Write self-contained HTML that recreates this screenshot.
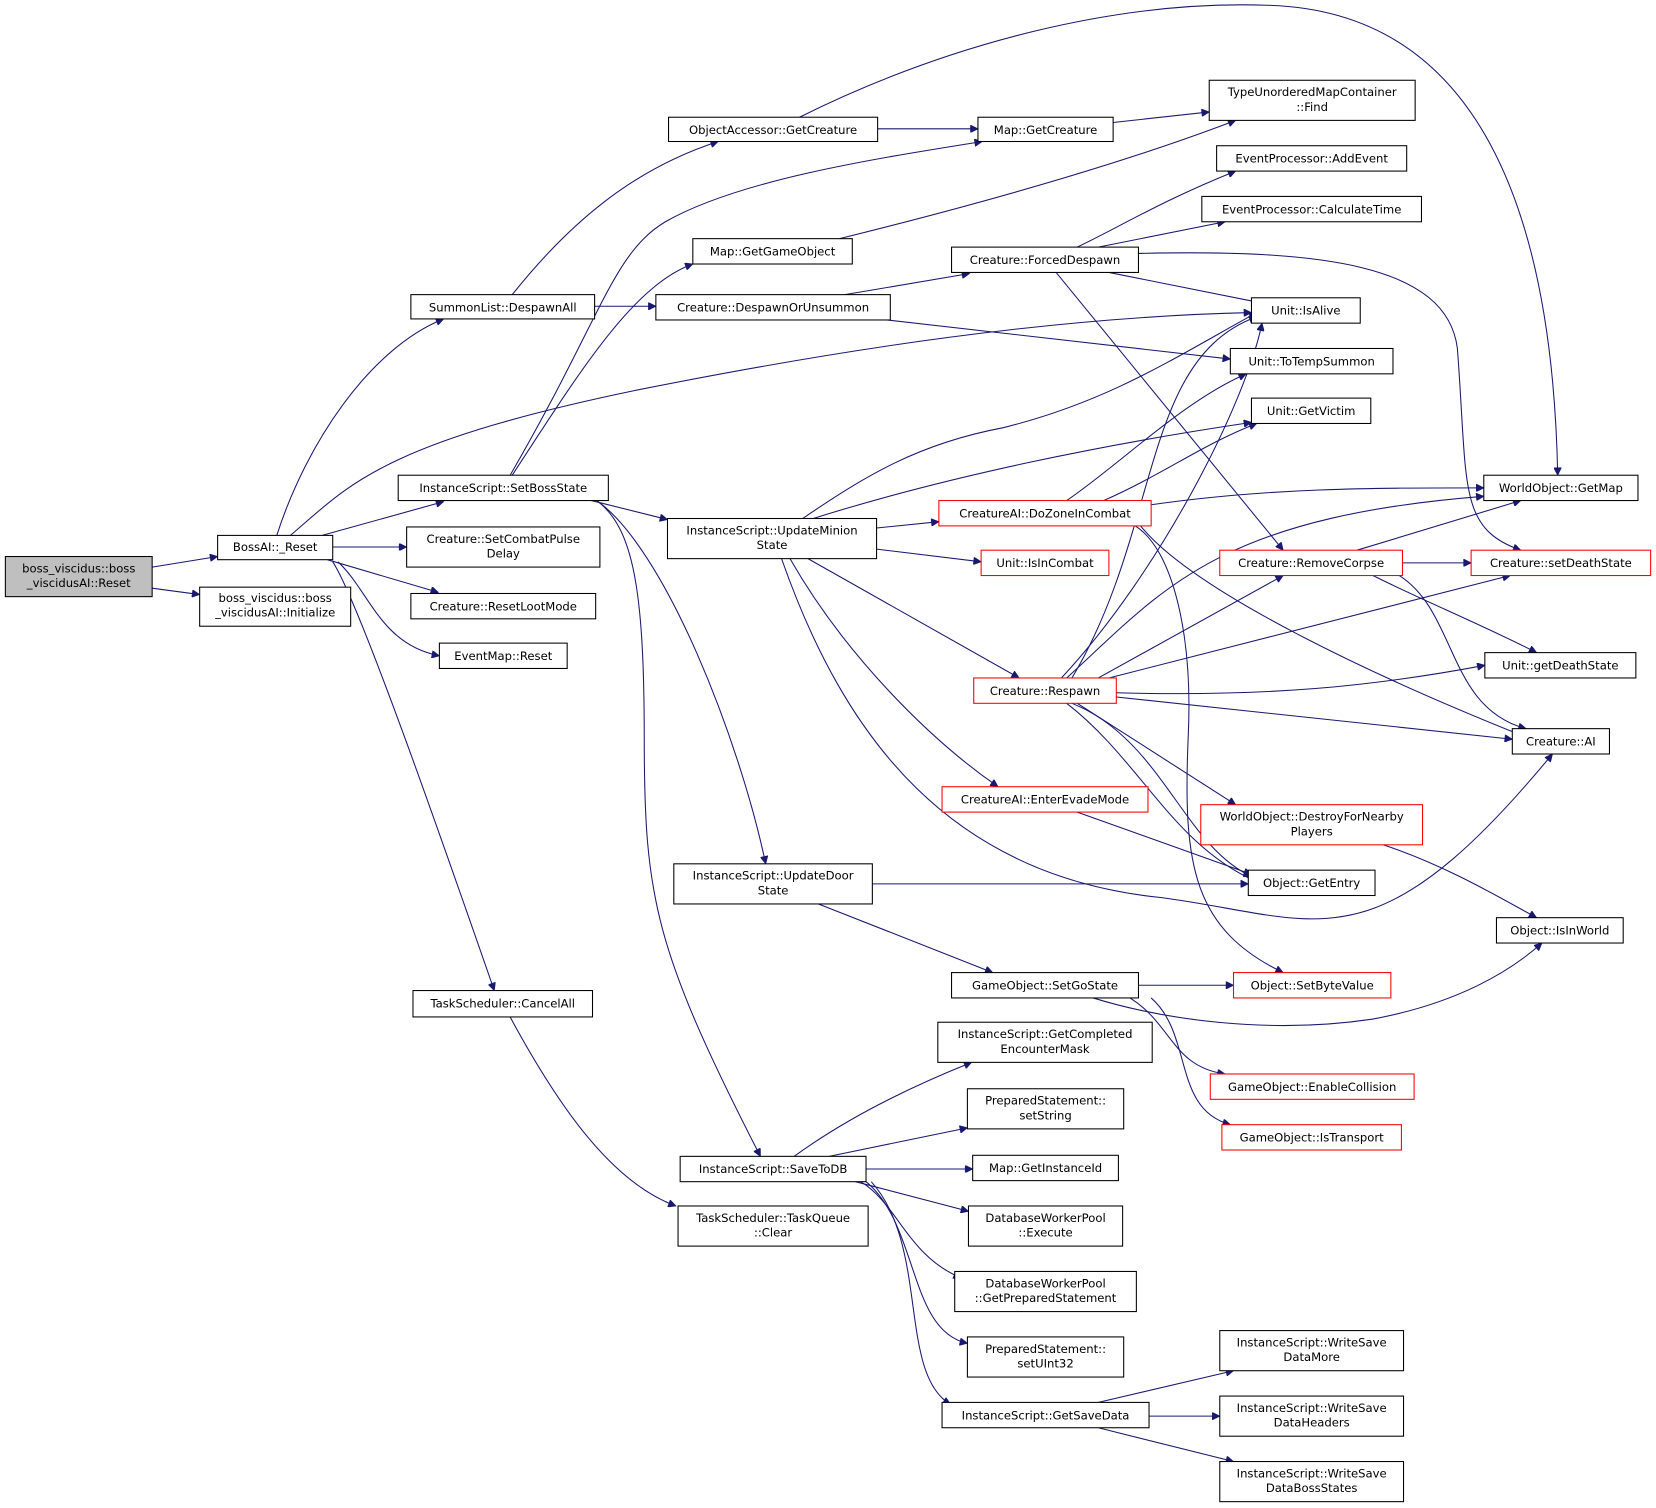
<!DOCTYPE html>
<html><head><meta charset="utf-8"><style>
html,body{margin:0;padding:0;background:#fff;}
svg{display:block;}
text{font-family:"DejaVu Sans","Liberation Sans",sans-serif;font-size:11px;fill:#000;text-anchor:middle;}
.n{fill:#fff;stroke:#000;stroke-width:1;}
.r{fill:#fff;stroke:#ff0000;stroke-width:1;}
.g{fill:#bfbfbf;stroke:#000;stroke-width:1;}
path{fill:none;stroke:#191970;stroke-width:1;marker-end:url(#a);}
</style></head><body>
<svg width="1656" height="1508" viewBox="0 0 1568 1428" xmlns="http://www.w3.org/2000/svg">
<defs><marker id="a" viewBox="0 0 10 10" refX="10" refY="5" markerWidth="10" markerHeight="7" markerUnits="userSpaceOnUse" orient="auto"><path d="M0,0 L10,5 L0,10 z" style="fill:#191970;stroke:#191970;marker-end:none"/></marker></defs>

<!-- edges -->
<path d="M144,537 L206,527"/>
<path d="M144,557 L189,563"/>
<path d="M305,507 C340,497 380,486 420,475"/>
<path d="M315,518 L385,518"/>
<path d="M310,530 L415,561"/>
<path d="M320,532 C350,560 360,610 416,621"/>
<path d="M315,532 C340,570 420,800 468,938"/>
<path d="M262,507 C290,420 350,330 420,302"/>
<path d="M275,507 C330,460 360,420 600,370 C800,330 1000,300 1185,296"/>
<path d="M485,279 C540,210 600,160 680,134"/>
<path d="M563,290 L621,290"/>
<path d="M800,279 L918,259"/>
<path d="M840,303 L1165,340"/>
<path d="M831,122 L926,122"/>
<path d="M757,111 C900,40 1060,0 1200,5 C1400,10 1470,200 1475,450"/>
<path d="M1054,116 L1145,106"/>
<path d="M795,226 C900,200 1050,160 1170,114"/>
<path d="M1020,234 C1060,215 1100,190 1170,162"/>
<path d="M1040,234 L1160,210"/>
<path d="M1050,258 L1195,287"/>
<path d="M1078,240 C1250,236 1370,250 1380,330 C1390,460 1380,500 1440,521"/>
<path d="M1000,258 L1215,521"/>
<path d="M483,450 C570,300 580,240 630,210 C700,170 830,150 930,134"/>
<path d="M485,450 C550,350 600,270 656,250"/>
<path d="M560,474 L632,492"/>
<path d="M565,474 C630,520 700,700 725,818"/>
<path d="M565,474 C600,500 610,560 610,700 C610,850 620,900 720,1095"/>
<path d="M760,491 C820,450 870,420 950,405 C1050,380 1110,340 1190,296"/>
<path d="M770,491 C900,450 1050,420 1185,400"/>
<path d="M830,500 L889,494"/>
<path d="M830,520 L929,532"/>
<path d="M765,529 L965,642"/>
<path d="M748,529 C800,620 880,700 945,745"/>
<path d="M740,529 C800,700 900,830 1100,850 C1250,870 1300,920 1470,714"/>
<path d="M1090,478 C1200,462 1300,462 1405,462"/>
<path d="M1045,474 C1100,450 1140,420 1190,401"/>
<path d="M1010,474 C1060,440 1120,380 1180,354"/>
<path d="M1080,498 C1130,560 1300,640 1440,696"/>
<path d="M1075,498 C1110,520 1130,600 1125,700 C1120,820 1130,880 1215,921"/>
<path d="M1285,521 L1440,474"/>
<path d="M1328,533 L1393,533"/>
<path d="M1300,545 C1350,570 1400,590 1455,618"/>
<path d="M1325,545 C1380,580 1370,670 1445,690"/>
<path d="M1010,642 C1100,560 1150,490 1405,470"/>
<path d="M1005,642 C1100,540 1180,380 1195,306"/>
<path d="M1015,642 C1100,500 1080,340 1190,300"/>
<path d="M1040,642 L1215,545"/>
<path d="M1050,642 L1430,545"/>
<path d="M1057,656 C1200,660 1300,650 1406,630"/>
<path d="M1057,660 L1432,700"/>
<path d="M1020,666 L1170,762"/>
<path d="M1010,666 C1080,720 1110,800 1190,835"/>
<path d="M1015,666 C1100,700 1120,800 1185,830"/>
<path d="M1020,769 L1185,828"/>
<path d="M1310,800 C1370,820 1420,850 1455,869"/>
<path d="M826,837 L1182,837"/>
<path d="M775,856 L940,921"/>
<path d="M1078,933 L1168,933"/>
<path d="M1035,945 C1100,965 1200,980 1300,965 C1380,950 1430,920 1460,893"/>
<path d="M1070,945 C1110,970 1110,1010 1160,1017"/>
<path d="M1090,945 C1130,980 1110,1050 1165,1065"/>
<path d="M752,1095 C800,1060 860,1030 920,1006"/>
<path d="M785,1095 L916,1068"/>
<path d="M820,1107 L921,1107"/>
<path d="M810,1119 L917,1147"/>
<path d="M815,1119 C850,1140 860,1190 910,1210"/>
<path d="M820,1119 C870,1160 860,1260 916,1272"/>
<path d="M825,1119 C880,1180 850,1300 900,1330"/>
<path d="M1040,1328 L1168,1298"/>
<path d="M1088,1341 L1155,1341"/>
<path d="M1040,1352 L1168,1384"/>
<path d="M483,963 C530,1050 580,1120 640,1142"/>

<!-- nodes -->
<rect class="g" x="5" y="527" width="139" height="38"/><text x="74.5" y="542">boss_viscidus::boss</text><text x="74.5" y="556">_viscidusAI::Reset</text>
<rect class="n" x="206" y="507" width="109" height="23"/><text x="260.5" y="522">BossAI::_Reset</text>
<rect class="n" x="189" y="556" width="143" height="37"/><text x="260.5" y="570">boss_viscidus::boss</text><text x="260.5" y="584">_viscidusAI::Initialize</text>
<rect class="n" x="377" y="450" width="199" height="24"/><text x="476.5" y="466">InstanceScript::SetBossState</text>
<rect class="n" x="385" y="499" width="183" height="38"/><text x="476.5" y="514">Creature::SetCombatPulse</text><text x="476.5" y="528">Delay</text>
<rect class="n" x="389" y="562" width="175" height="24"/><text x="476.5" y="578">Creature::ResetLootMode</text>
<rect class="n" x="416" y="609" width="121" height="24"/><text x="476.5" y="625">EventMap::Reset</text>
<rect class="n" x="391" y="938" width="170" height="25"/><text x="476" y="954">TaskScheduler::CancelAll</text>
<rect class="n" x="389" y="279" width="174" height="23"/><text x="476" y="295">SummonList::DespawnAll</text>
<rect class="n" x="633" y="111" width="198" height="23"/><text x="732" y="127">ObjectAccessor::GetCreature</text>
<rect class="n" x="926" y="111" width="128" height="23"/><text x="990" y="127">Map::GetCreature</text>
<rect class="n" x="1145" y="76" width="195" height="38"/><text x="1242.5" y="91">TypeUnorderedMapContainer</text><text x="1242.5" y="105">::Find</text>
<rect class="n" x="1152" y="138" width="180" height="24"/><text x="1242" y="154">EventProcessor::AddEvent</text>
<rect class="n" x="1138" y="186" width="208" height="24"/><text x="1242" y="202">EventProcessor::CalculateTime</text>
<rect class="n" x="656" y="226" width="151" height="24"/><text x="731.5" y="242">Map::GetGameObject</text>
<rect class="n" x="901" y="234" width="177" height="24"/><text x="989.5" y="250">Creature::ForcedDespawn</text>
<rect class="n" x="621" y="279" width="222" height="24"/><text x="732" y="295">Creature::DespawnOrUnsummon</text>
<rect class="n" x="1185" y="282" width="103" height="24"/><text x="1236.5" y="298">Unit::IsAlive</text>
<rect class="n" x="1165" y="330" width="154" height="24"/><text x="1242" y="346">Unit::ToTempSummon</text>
<rect class="n" x="1185" y="377" width="113" height="24"/><text x="1241.5" y="393">Unit::GetVictim</text>
<rect class="n" x="1405" y="450" width="146" height="24"/><text x="1478" y="466">WorldObject::GetMap</text>
<rect class="n" x="632" y="491" width="198" height="38"/><text x="731" y="506">InstanceScript::UpdateMinion</text><text x="731" y="520">State</text>
<rect class="r" x="889" y="474" width="201" height="24"/><text x="989.5" y="490">CreatureAI::DoZoneInCombat</text>
<rect class="r" x="929" y="521" width="121" height="24"/><text x="989.5" y="537">Unit::IsInCombat</text>
<rect class="r" x="1155" y="521" width="173" height="24"/><text x="1241.5" y="537">Creature::RemoveCorpse</text>
<rect class="r" x="1393" y="521" width="170" height="24"/><text x="1478" y="537">Creature::setDeathState</text>
<rect class="n" x="1406" y="618" width="143" height="24"/><text x="1477.5" y="634">Unit::getDeathState</text>
<rect class="r" x="922" y="642" width="135" height="24"/><text x="989.5" y="658">Creature::Respawn</text>
<rect class="n" x="1432" y="690" width="92" height="24"/><text x="1478" y="706">Creature::AI</text>
<rect class="r" x="892" y="745" width="195" height="24"/><text x="989.5" y="761">CreatureAI::EnterEvadeMode</text>
<rect class="r" x="1137" y="762" width="210" height="38"/><text x="1242" y="777">WorldObject::DestroyForNearby</text><text x="1242" y="791">Players</text>
<rect class="n" x="638" y="818" width="188" height="38"/><text x="732" y="833">InstanceScript::UpdateDoor</text><text x="732" y="847">State</text>
<rect class="n" x="1182" y="824" width="120" height="24"/><text x="1242" y="840">Object::GetEntry</text>
<rect class="n" x="1417" y="869" width="120" height="24"/><text x="1477" y="885">Object::IsInWorld</text>
<rect class="n" x="901" y="921" width="177" height="24"/><text x="989.5" y="937">GameObject::SetGoState</text>
<rect class="r" x="1168" y="921" width="149" height="24"/><text x="1242.5" y="937">Object::SetByteValue</text>
<rect class="n" x="888" y="968" width="203" height="38"/><text x="989.5" y="983">InstanceScript::GetCompleted</text><text x="989.5" y="997">EncounterMask</text>
<rect class="n" x="916" y="1031" width="148" height="38"/><text x="990" y="1046">PreparedStatement::</text><text x="990" y="1060">setString</text>
<rect class="r" x="1146" y="1017" width="193" height="24"/><text x="1242.5" y="1033">GameObject::EnableCollision</text>
<rect class="r" x="1157" y="1065" width="170" height="24"/><text x="1242" y="1081">GameObject::IsTransport</text>
<rect class="n" x="644" y="1095" width="176" height="24"/><text x="732" y="1111">InstanceScript::SaveToDB</text>
<rect class="n" x="921" y="1094" width="138" height="24"/><text x="990" y="1110">Map::GetInstanceId</text>
<rect class="n" x="642" y="1142" width="180" height="38"/><text x="732" y="1157">TaskScheduler::TaskQueue</text><text x="732" y="1171">::Clear</text>
<rect class="n" x="917" y="1142" width="146" height="38"/><text x="990" y="1157">DatabaseWorkerPool</text><text x="990" y="1171">::Execute</text>
<rect class="n" x="904" y="1204" width="172" height="38"/><text x="990" y="1219">DatabaseWorkerPool</text><text x="990" y="1233">::GetPreparedStatement</text>
<rect class="n" x="916" y="1266" width="148" height="38"/><text x="990" y="1281">PreparedStatement::</text><text x="990" y="1295">setUInt32</text>
<rect class="n" x="1155" y="1260" width="174" height="38"/><text x="1242" y="1275">InstanceScript::WriteSave</text><text x="1242" y="1289">DataMore</text>
<rect class="n" x="892" y="1328" width="196" height="24"/><text x="990" y="1344">InstanceScript::GetSaveData</text>
<rect class="n" x="1155" y="1322" width="174" height="38"/><text x="1242" y="1337">InstanceScript::WriteSave</text><text x="1242" y="1351">DataHeaders</text>
<rect class="n" x="1155" y="1384" width="174" height="38"/><text x="1242" y="1399">InstanceScript::WriteSave</text><text x="1242" y="1413">DataBossStates</text>
</svg>
</body></html>
